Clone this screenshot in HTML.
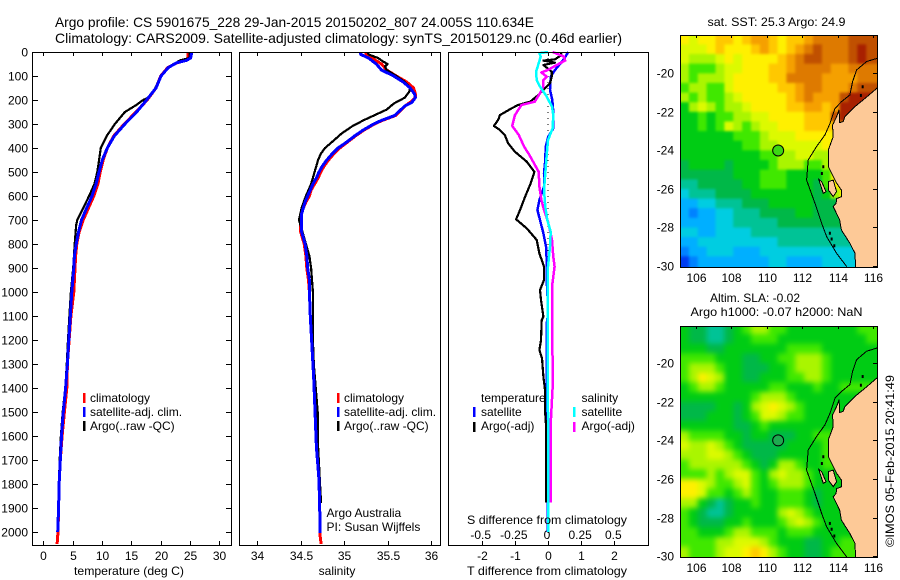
<!DOCTYPE html>
<html>
<head>
<meta charset="utf-8">
<title>Argo profile 5901675_228</title>
<style>
html,body{margin:0;padding:0;background:#fff;}
svg{display:block;font-family:"Liberation Sans",sans-serif;font-size:12px;fill:#000;}
text{stroke:none;fill:#000;}
</style>
</head>
<body>
<svg id="chart" width="900" height="580" viewBox="0 0 900 580" xmlns="http://www.w3.org/2000/svg">
<defs>
<clipPath id="clip-map-sst"><rect x="681" y="36" width="196" height="231"/></clipPath>
<clipPath id="clip-map-sla"><rect x="681" y="327" width="196" height="230"/></clipPath>
<filter id="soft-sst" x="-5%" y="-5%" width="110%" height="110%" color-interpolation-filters="sRGB"><feGaussianBlur stdDeviation="1.2"/></filter>
<filter id="soft-sla" x="-5%" y="-5%" width="110%" height="110%" color-interpolation-filters="sRGB"><feGaussianBlur stdDeviation="2.6"/></filter>
</defs>
<rect x="0" y="0" width="900" height="580" fill="#fff"/>

<text x="55" y="27" font-size="14" textLength="479" lengthAdjust="spacingAndGlyphs">Argo profile: CS 5901675_228 29-Jan-2015 20150202_807 24.005S 110.634E</text>
<text x="55" y="43" font-size="14" textLength="567" lengthAdjust="spacingAndGlyphs">Climatology: CARS2009. Satellite-adjusted climatology: synTS_20150129.nc (0.46d earlier)</text>

<g id="panel-t"></g>
<g id="panel-s"></g>
<g id="panel-d"></g>

<text x="129" y="575" text-anchor="middle" textLength="110" lengthAdjust="spacingAndGlyphs">temperature (deg C)</text>
<text x="337" y="575" text-anchor="middle">salinity</text>
<text x="547" y="575" text-anchor="middle" textLength="160" lengthAdjust="spacingAndGlyphs">T difference from climatology</text>
<text x="547" y="524" text-anchor="middle" textLength="160" lengthAdjust="spacingAndGlyphs">S difference from climatology</text>

<g>
<rect x="83" y="393" width="2.5" height="10" fill="#f00"/>
<text x="90" y="402">climatology</text>
<rect x="83" y="407" width="2.5" height="10" fill="#00f"/>
<text x="90" y="416">satellite-adj. clim.</text>
<rect x="83" y="421" width="2.5" height="10" fill="#000"/>
<text x="90" y="430">Argo(..raw -QC)</text>
</g>
<g>
<rect x="337" y="393" width="2.5" height="10" fill="#f00"/>
<text x="344" y="402">climatology</text>
<rect x="337" y="407" width="2.5" height="10" fill="#00f"/>
<text x="344" y="416">satellite-adj. clim.</text>
<rect x="337" y="421" width="2.5" height="10" fill="#000"/>
<text x="344" y="430">Argo(..raw -QC)</text>
</g>
<text x="326.5" y="517">Argo Australia</text>
<text x="326.5" y="531">PI: Susan Wijffels</text>
<g>
<text x="481" y="402">temperature</text>
<rect x="473" y="407" width="2.5" height="10" fill="#00f"/>
<text x="481" y="416">satellite</text>
<rect x="473" y="422" width="2.5" height="10" fill="#000"/>
<text x="481" y="430">Argo(-adj)</text>
<text x="581.5" y="402">salinity</text>
<rect x="573" y="407" width="2.5" height="10" fill="#0ff"/>
<text x="581.5" y="416">satellite</text>
<rect x="573" y="422" width="2.5" height="10" fill="#f0f"/>
<text x="581.5" y="430">Argo(-adj)</text>
</g>

<g id="map-sst"></g>
<g id="map-sla"></g>

<text x="776.5" y="26" text-anchor="middle" textLength="138" lengthAdjust="spacingAndGlyphs">sat. SST: 25.3 Argo: 24.9</text>
<text x="755" y="302" text-anchor="middle">Altim. SLA: -0.02</text>
<text x="776.5" y="316" text-anchor="middle" textLength="172" lengthAdjust="spacingAndGlyphs">Argo h1000: -0.07 h2000: NaN</text>
<text transform="translate(894,547) rotate(-90)" textLength="172" lengthAdjust="spacingAndGlyphs">©IMOS 05-Feb-2015 20:41:49</text>
</svg>

<script>
// ---- Profile data ----
const depthTicks = [0,100,200,300,400,500,600,700,800,900,1000,1100,1200,1300,1400,1500,1600,1700,1800,1900,2000];
const tempTicks = [0,5,10,15,20,25,30];
const salTicks = [34,34.5,35,35.5,36];
const salTickLabels = ['34','34.5','35','35.5','36'];
const tDiffTicks = [-2,-1,0,1,2];
const sDiffTicks = [-0.5,-0.25,0,0.25,0.5];
const sDiffTickLabels = ['-0.5','-0.25','0','0.25','0.5'];

const tempClimDepth = [0,25,35,45,65,100,150,200,250,300,350,400,450,500,550,600,650,700,750,800,850,900,1000,1100,1200,1300,1400,1500,1600,1700,1800,1900,2000,2050];
const tempClim = [24.7,24.6,24.3,22.8,21.2,20.0,19.2,17.7,15.8,13.8,12.0,10.9,10.2,9.7,9.3,8.6,7.7,6.8,6.1,5.7,5.5,5.4,5.2,4.7,4.4,4.1,4.0,3.6,3.2,2.9,2.7,2.6,2.5,2.35];
const tempSatDepth = [0,25,35,45,65,100,150,200,250,300,350,400,450,500,550,600,650,700,750,800,850,900,1000,1100,1200,1300,1400,1500,1600,1700,1800,1900,2000];
const tempSat = [25.3,25.1,24.4,22.7,21.3,20.05,19.2,17.6,15.9,13.9,12.1,10.9,10.05,9.5,9.0,8.3,7.4,6.5,6.0,5.6,5.3,5.2,4.85,4.6,4.35,4.1,3.8,3.4,3.1,2.9,2.7,2.6,2.45];
const tempArgoDepth = [0,25,35,50,65,100,150,190,200,220,250,300,350,400,450,500,550,600,650,700,720,800,900,1000,1100,1200,1300,1400,1500,1600,1700,1800,1880];
const tempArgo = [24.9,24.9,23.3,22.2,21.3,20.0,19.1,17.9,17.0,15.9,13.9,12.2,10.8,9.8,9.5,9.2,8.7,7.8,6.8,5.8,5.6,5.35,5.1,4.7,4.45,4.2,4.0,3.75,3.3,3.0,2.8,2.65,2.55];

const salSatDepth = [0,10,25,50,75,100,125,150,175,190,210,225,265,285,300,325,350,375,400,425,450,475,500,525,550,575,600,625,650,675,700,750,800,850,900,950,1000,1100,1367,1506,1645,1783,1922,2005];
const salSat = [35.19,35.19,35.28,35.37,35.43,35.57,35.68,35.76,35.81,35.82,35.78,35.7,35.58,35.43,35.34,35.22,35.12,35.03,34.93,34.86,34.8,34.75,34.71,34.68,34.64,34.61,34.58,34.55,34.53,34.51,34.51,34.51,34.55,34.57,34.58,34.6,34.6,34.61,34.65,34.665,34.68,34.71,34.72,34.72];
const salClimDepth = [0,10,25,50,75,100,125,150,175,190,210,225,265,285,300,325,350,375,400,425,450,475,500,525,550,575,600,625,650,675,700,750,800,850,900,950,1000,1100,1367,1506,1645,1783,1922,2005,2050];
const salClim = [35.25,35.25,35.32,35.43,35.49,35.6,35.72,35.8,35.82,35.82,35.76,35.7,35.59,35.44,35.35,35.23,35.13,35.04,34.95,34.88,34.82,34.77,34.73,34.7,34.66,34.62,34.6,34.56,34.53,34.51,34.5,34.5,34.54,34.56,34.57,34.59,34.6,34.61,34.65,34.665,34.68,34.71,34.72,34.72,34.735];
const salArgoDepth = [0,10,25,40,50,60,75,100,125,150,165,190,215,240,260,285,310,340,375,400,425,450,500,550,600,650,700,750,800,850,900,950,1000,1100,1200,1300,1367,1500,1645,1783,1880];
const salArgo = [35.27,35.28,35.39,35.45,35.5,35.47,35.49,35.6,35.7,35.76,35.75,35.7,35.57,35.49,35.37,35.22,35.09,34.97,34.86,34.78,34.73,34.7,34.66,34.62,34.56,34.51,34.48,34.52,34.56,34.6,34.62,34.63,34.64,34.64,34.64,34.65,34.665,34.695,34.7,34.72,34.735];

const tDiffSatDepth = [0,33,75,103,158,200,250,318,353,394,450,506,561,617,658,700,756,811,867,950,1033,1103,1131,1256,1353,1547,2000];
const tDiffSat = [0.61,0.46,0.21,0.08,0.06,0.13,0.16,0.16,0.01,-0.07,-0.08,-0.12,-0.12,-0.26,-0.32,-0.24,-0.14,-0.06,-0.04,-0.04,-0.01,-0.01,-0.04,-0.04,-0.04,-0.04,0];
const tDiffArgoDepth = [0,12,31,36,44,54,82,103,131,158,179,207,221,235,263,283,308,325,346,381,415,457,499,547,603,658,697,735,783,839,894,950,992,1033,1103,1117,1200,1242,1276,1353,1408,1492,1554,1878];
const tDiffArgo = [0.38,0.41,0.21,-0.14,0.21,-0.14,0.11,0.11,0.06,-0.14,-0.29,-0.54,-0.9,-1.1,-1.45,-1.5,-1.63,-1.45,-1.3,-1.2,-1.0,-0.64,-0.41,-0.52,-0.69,-0.84,-0.96,-0.64,-0.34,-0.26,-0.12,-0.12,-0.24,-0.21,-0.14,-0.19,-0.21,-0.26,-0.18,-0.14,-0.09,-0.09,-0.06,-0.06];
const sDiffArgoDepth = [0,19,36,54,75,85,103,117,144,172,207,221,263,308,346,394,429,499,561,617,658,707,783,853,894,978,1103,1200,1276,1400,1550,1878];
const sDiffArgo = [0.035,0.12,0.13,0.065,0,-0.05,-0.01,-0.035,-0.035,-0.06,-0.1,-0.2,-0.25,-0.27,-0.22,-0.18,-0.14,-0.07,-0.065,-0.05,-0.03,0,0.03,0.04,0.05,0.03,0.03,0.03,0.035,0.035,0.02,0.02];
const sDiffSatDepth = [0,5,19,47,82,117,144,186,228,263,318,367,429,506,575,644,700,749,811,894,1103,1500,2000];
const sDiffSat = [0,-0.065,-0.055,-0.07,-0.09,-0.085,-0.06,-0.01,0.03,0.04,0.035,0,-0.01,-0.02,-0.03,-0.02,-0.005,0.02,0.015,0,-0.003,0,0];

// ---- Map data ----
const mapLonTicks = [106,108,110,112,114,116];
const mapLatTicks = [-20,-22,-24,-26,-28,-30];
const mapLon0 = 105.1;
const mapLat0 = -18;
const mapCellDeg = 0.5;
const argoLon = 110.634;
const argoLat = -24.005;

const colorLevels = ['#003cf0','#0082ff','#00afff','#00cde1','#00c396','#00b848','#00cc14','#40e800','#aaf500','#dcfa00','#fff000','#ffc800','#f5a000','#de7a00','#c05000','#a82000'];

const sstLevels = [
[10,9,10,10,11,11,10,11,12,12,11,10,11,11,12,13,13,13,13,14,14,14],
[9,9,9,10,11,10,10,10,11,12,11,10,11,12,13,14,13,13,13,14,15,14],
[9,8,8,8,9,10,9,10,10,10,10,11,12,13,14,14,13,13,13,14,15,14],
[8,7,7,7,8,9,9,10,10,10,11,11,12,13,13,13,13,12,12,13,13,13],
[8,7,8,8,8,9,10,10,10,10,11,11,13,13,13,13,12,12,12,12,13,13],
[7,8,8,7,7,9,10,10,10,10,10,11,11,12,13,13,12,12,12,13,14,14],
[8,7,8,7,7,8,9,10,10,10,10,10,11,12,13,12,12,12,14,15,15,15],
[6,8,9,8,7,8,8,9,10,10,10,10,11,11,12,12,11,12,15,15,15,15],
[6,6,7,6,7,7,8,8,9,9,10,10,10,10,11,11,11,14,15,15,15,15],
[6,6,7,6,7,9,8,7,8,9,9,10,10,10,11,11,11,11,11,11,11,11],
[6,6,6,6,6,6,7,7,7,8,9,9,9,10,10,10,10,10,10,10,10,10],
[6,6,6,6,6,6,6,7,7,8,8,9,9,9,9,9,10,10,10,10,10,10],
[6,6,6,6,6,6,6,6,6,7,7,8,8,9,9,8,8,10,10,10,10,10],
[5,6,6,6,6,5,6,6,6,6,7,8,8,8,7,7,8,10,10,10,10,10],
[5,5,5,5,5,5,6,6,6,7,7,7,6,6,6,6,7,10,11,11,11,11],
[4,4,5,5,5,5,5,6,6,7,7,7,6,6,6,5,7,10,11,11,11,11],
[3,4,4,4,5,5,5,5,6,6,6,6,6,6,6,5,6,8,10,10,10,10],
[2,2,3,3,4,4,4,5,5,5,6,6,6,6,6,5,5,5,5,5,5,5],
[2,1,2,2,3,3,4,4,4,5,5,5,5,6,6,5,5,5,5,5,5,5],
[2,2,2,2,3,3,4,4,4,4,4,5,5,5,5,5,5,5,5,5,5,5],
[3,3,2,2,3,3,3,3,4,4,4,4,4,4,4,4,4,4,4,4,4,4],
[2,2,3,3,3,3,3,3,3,3,3,4,4,4,4,4,4,4,4,4,4,4],
[1,2,2,3,3,3,2,2,2,3,3,3,3,3,3,3,3,3,3,3,3,3],
[0,1,2,2,2,2,2,2,2,2,3,3,2,2,2,2,3,3,3,3,3,3]
];

const slaLevels = [
[6,5,5,4,4,5,6,7,8,8,7,7,6,6,6,6,6,6,6,6,7,7],
[6,5,5,4,4,5,6,6,7,7,7,6,6,6,6,6,6,6,6,6,6,7],
[6,6,6,5,5,6,6,6,6,6,6,6,7,7,7,7,6,6,6,6,6,6],
[7,7,7,7,6,6,6,5,5,6,6,7,7,8,8,8,7,6,6,6,6,6],
[7,8,8,8,7,6,6,5,5,5,6,6,7,8,8,8,7,6,6,6,6,6],
[7,8,10,9,8,6,6,5,5,6,6,6,7,7,8,8,7,6,6,6,6,6],
[6,7,8,8,7,6,6,6,6,6,7,7,6,6,6,7,6,6,7,7,7,7],
[6,6,6,6,6,6,6,6,7,8,8,8,7,6,6,6,6,6,6,6,6,6],
[5,5,5,5,6,6,5,6,8,9,10,9,8,7,6,6,6,6,6,6,6,6],
[5,5,5,6,6,6,5,6,7,9,9,8,7,7,6,6,6,6,6,6,6,6],
[6,6,6,6,6,6,5,5,6,7,6,6,6,6,6,6,6,6,6,6,6,6],
[8,7,7,7,7,6,6,5,6,6,5,5,5,6,6,7,7,7,7,7,7,7],
[9,8,8,9,8,7,6,5,5,5,5,5,6,6,6,6,7,7,7,7,7,7],
[8,8,8,9,9,8,7,6,5,5,5,6,6,6,6,6,7,7,7,7,7,7],
[7,8,8,8,8,8,8,7,6,5,6,8,8,7,6,6,7,7,7,7,7,7],
[7,7,7,8,7,8,9,9,7,6,8,9,8,8,7,6,6,6,7,7,7,7],
[10,10,9,8,7,7,8,9,7,6,7,8,8,8,7,6,6,6,6,6,6,6],
[10,10,9,7,7,6,7,8,7,6,6,7,7,7,6,5,6,6,6,6,6,6],
[8,8,6,5,4,5,6,6,7,6,6,7,7,7,6,5,6,6,6,6,6,6],
[7,6,5,4,4,5,6,6,6,6,6,8,9,8,7,6,6,6,6,6,6,6],
[7,6,5,5,5,6,6,7,6,6,6,7,8,9,8,7,6,6,6,6,6,6],
[7,7,6,6,6,7,8,8,7,7,7,6,7,7,7,6,6,6,6,6,7,7],
[7,7,7,7,8,8,9,9,9,8,7,6,6,6,5,5,6,6,7,7,7,7],
[8,7,7,7,8,9,9,10,11,10,8,7,6,6,5,5,6,7,7,7,7,7]
];

const landLon = [116.3,115.6,114.97,114.5,114.4,114.3,114.1,114.07,113.93,113.75,113.7,113.74,113.46,113.46,113.93,114.2,114.22,113.93,113.9,113.74,114.1,114.2,114.68,114.97,115,116.3];
const landLat = [-20.7,-21.25,-21.73,-22.16,-22.25,-22.5,-22.56,-21.9,-22.25,-22.6,-22.68,-23.29,-23.98,-24.84,-25.7,-26.06,-26.4,-26.5,-26.75,-26.92,-27.6,-28.13,-28.82,-29.34,-30.1,-30.1];
const peronLon = [113.46,113.74,113.93,113.74,113.46];
const peronLat = [-25.62,-25.54,-26.14,-26.4,-26.05];
const hartogLon = [112.92,113.09,113.33,113.18];
const hartogLat = [-25.5,-25.63,-26.14,-26.23];
const contourLon = [116.23,115.62,115.06,114.83,114.68,114.21,113.84,113.56,113.27,112.8,112.33,112.24,112.71,113.09,113.37,113.93,114.5];
const contourLat = [-19.22,-19.39,-19.83,-20.43,-21.12,-21.47,-21.82,-22.6,-23.2,-23.8,-24.5,-25.54,-26.75,-27.79,-28.48,-29.34,-30.03];
const islandLon = [115.4,115.3,113.18,113.1,113.55,113.65,113.8];
const islandLat = [-20.7,-21.15,-24.85,-25.2,-28.3,-28.6,-28.95];

// ---- Helpers ----
const NS = 'http://www.w3.org/2000/svg';
function make(parent, tag, props) {
  const el = document.createElementNS(NS, tag);
  for (const k in props) el.setAttribute(k, props[k]);
  parent.appendChild(el);
  return el;
}
const depthY = d => 52 + d * 0.24;
const tempX = v => 43.3 + v * 5.87;
const salX = v => 257.3 + (v - 34) * 86.85;
const tDiffX = v => 548 + v * 33.2;
const sDiffX = v => 548 + v * 132.6;

function drawFrame(g, x, y, w, h, name) {
  const el = make(g, 'rect', {x: x + 0.5, y: y + 0.5, width: w, height: h, fill: 'none', stroke: '#000', 'stroke-width': 1, 'shape-rendering': 'crispEdges'});
  
  
}
function drawTick(g, x1, y1, x2, y2, name) {
  const el = make(g, 'line', {x1: x1, y1: y1, x2: x2, y2: y2, stroke: '#000', 'stroke-width': 1, 'shape-rendering': 'crispEdges'});
  
  
}
function drawLabel(g, x, y, str, anchor, name) {
  const el = make(g, 'text', {x: x, y: y, 'text-anchor': anchor});
  el.textContent = str;
  
  
}
function drawProfile(g, depths, values, xf, color, width, name) {
  const pts = values.map((v, i) => xf(v).toFixed(1) + ',' + depthY(depths[i]).toFixed(1)).join(' ');
  const el = make(g, 'polyline', {points: pts, fill: 'none', stroke: color, 'stroke-width': width, 'stroke-linejoin': 'round', 'shape-rendering': 'crispEdges'});
  
  
}

// ---- Temperature panel ----
const gT = document.getElementById('panel-t');
depthTicks.forEach(d => {
  const y = Math.round(depthY(d)) + 0.5;
  drawTick(gT, 32, y, 38, y, 'depth-tick-left');
  drawTick(gT, 226, y, 232, y, 'depth-tick-right');
  drawLabel(gT, 28, y + 4, String(d), 'end', 'depth-tick-label');
});
tempTicks.forEach(v => {
  const x = Math.round(tempX(v)) + 0.5;
  drawTick(gT, x, 52, x, 56, 'temperature-tick-top');
  drawTick(gT, x, 541, x, 545, 'temperature-tick-bottom');
  drawLabel(gT, x, 560, String(v), 'middle', 'temperature-tick-label');
});
drawProfile(gT, tempClimDepth, tempClim, tempX, '#f00', 3, 'temperature-climatology-line');
drawProfile(gT, tempArgoDepth, tempArgo, tempX, '#000', 2.2, 'temperature-argo-line');
drawProfile(gT, tempSatDepth, tempSat, tempX, '#00f', 3, 'temperature-satellite-line');
drawFrame(gT, 32, 52, 199, 493, 'temperature-axes-frame');

// ---- Salinity panel ----
const gS = document.getElementById('panel-s');
salTicks.forEach((v, i) => {
  const x = Math.round(salX(v)) + 0.5;
  drawTick(gS, x, 52, x, 56, 'salinity-tick-top');
  drawTick(gS, x, 541, x, 545, 'salinity-tick-bottom');
  drawLabel(gS, x, 560, salTickLabels[i], 'middle', 'salinity-tick-label');
});
drawProfile(gS, salClimDepth, salClim, salX, '#f00', 3, 'salinity-climatology-line');
drawProfile(gS, salArgoDepth, salArgo, salX, '#000', 2.2, 'salinity-argo-line');
drawProfile(gS, salSatDepth, salSat, salX, '#00f', 3, 'salinity-satellite-line');
drawFrame(gS, 239, 52, 201, 493, 'salinity-axes-frame');

// ---- Difference panel ----
const gD = document.getElementById('panel-d');
tDiffTicks.forEach(v => {
  const x = Math.round(tDiffX(v)) + 0.5;
  drawTick(gD, x, 52, x, 56, 't-difference-tick-top');
  drawTick(gD, x, 541, x, 545, 't-difference-tick-bottom');
  drawLabel(gD, x, 560, String(v), 'middle', 't-difference-tick-label');
});
sDiffTicks.forEach((v, i) => {
  drawLabel(gD, sDiffX(v) - 1, 539, sDiffTickLabels[i], 'middle', 's-difference-tick-label');
});
const zeroLine = make(gD, 'line', {x1: tDiffX(0), y1: depthY(0), x2: tDiffX(0), y2: depthY(2050), stroke: '#000', 'stroke-width': 1, 'stroke-dasharray': '1 5', 'shape-rendering': 'crispEdges'});


drawProfile(gD, tDiffSatDepth, tDiffSat, tDiffX, '#00f', 2.5, 't-difference-satellite-line');
drawProfile(gD, tDiffArgoDepth, tDiffArgo, tDiffX, '#000', 2.2, 't-difference-argo-line');
drawProfile(gD, sDiffArgoDepth, sDiffArgo, sDiffX, '#f0f', 2.5, 's-difference-argo-line');
drawProfile(gD, sDiffSatDepth, sDiffSat, sDiffX, '#0ff', 2.5, 's-difference-satellite-line');
drawFrame(gD, 448, 52, 200, 493, 'difference-axes-frame');

// ---- Maps ----
const lonX = lon => 696 + (lon - 106) * 17.73;
function drawPoly(g, lons, lats, latY, fill, stroke, name) {
  const pts = lons.map((v, i) => lonX(v).toFixed(1) + ',' + latY(lats[i]).toFixed(1)).join(' ');
  const el = make(g, 'polygon', {points: pts, fill: fill, stroke: stroke, 'stroke-width': 1, 'shape-rendering': 'crispEdges'});
  
  
}
function drawMap(host, grid, latY, top, bottom, clipId, filterId, circleFill, prefix) {
  const clip = make(host, 'g', {'clip-path': 'url(#' + clipId + ')'});
  
  
  const cells = make(clip, 'g', {filter: 'url(#' + filterId + ')'});
  
  
  grid.forEach((row, j) => {
    row.forEach((lvl, i) => {
      let x0 = lonX(mapLon0 + i * mapCellDeg);
      let x1 = lonX(mapLon0 + (i + 1) * mapCellDeg);
      let y0 = latY(mapLat0 - j * mapCellDeg);
      let y1 = latY(mapLat0 - (j + 1) * mapCellDeg);
      if (i === 0) x0 -= 12;
      if (i === row.length - 1) x1 += 12;
      if (j === 0) y0 -= 12;
      if (j === grid.length - 1) y1 += 12;
      const idx = Math.max(0, Math.min(colorLevels.length - 1, Math.round(lvl)));
      const cell = make(cells, 'rect', {x: x0.toFixed(2), y: y0.toFixed(2), width: (x1 - x0 + 0.5).toFixed(2), height: (y1 - y0 + 0.5).toFixed(2), fill: colorLevels[idx]});
      
      
    });
  });
  drawPoly(clip, landLon, landLat, latY, '#fdc997', '#000', prefix + '-land');
  drawPoly(clip, peronLon, peronLat, latY, '#fdc997', '#000', prefix + '-peron-peninsula');
  drawPoly(clip, hartogLon, hartogLat, latY, '#fdc997', '#000', prefix + '-dirk-hartog-island');
  const contour = make(clip, 'polyline', {points: contourLon.map((v, i) => lonX(v).toFixed(1) + ',' + latY(contourLat[i]).toFixed(1)).join(' '), fill: 'none', stroke: '#000', 'stroke-width': 1, 'shape-rendering': 'crispEdges'});
  
  
  islandLon.forEach((v, i) => {
    const isl = make(clip, 'rect', {x: lonX(v) - 1, y: latY(islandLat[i]) - 1.5, width: 2, height: 3, fill: '#000'});
    
    
  });
  const circle = make(host, 'circle', {cx: lonX(argoLon), cy: latY(argoLat), r: 5.5, fill: circleFill, stroke: '#000', 'stroke-width': 1});
  
  
  mapLonTicks.forEach(lon => {
    const x = Math.round(lonX(lon)) + 0.5;
    drawTick(host, x, top, x, top + 3, prefix + '-longitude-tick');
    drawLabel(host, x, bottom + 15, String(lon), 'middle', prefix + '-longitude-label');
  });
  mapLatTicks.forEach(lat => {
    const y = Math.round(latY(lat)) + 0.5;
    drawTick(host, 873, y, 877, y, prefix + '-latitude-tick');
    drawLabel(host, 674, y + 4, String(lat), 'end', prefix + '-latitude-label');
  });
  drawFrame(host, 680, top, 197, bottom - top, prefix + '-frame');
}
drawMap(document.getElementById('map-sst'), sstLevels, lat => 73.3 + (-20 - lat) * 19.27, 35, 267, 'clip-map-sst', 'soft-sst', '#3cd714', 'sst-map');
drawMap(document.getElementById('map-sla'), slaLevels, lat => 363 + (-20 - lat) * 19.33, 326, 557, 'clip-map-sla', 'soft-sla', '#1eaa50', 'sla-map');
</script>
</body>
</html>
